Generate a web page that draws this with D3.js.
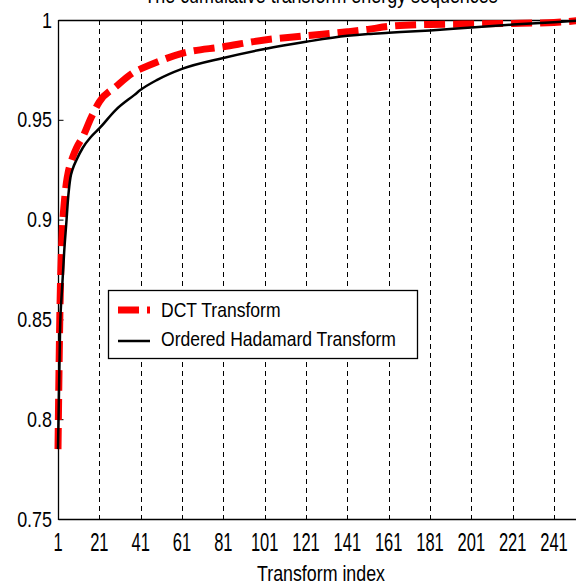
<!DOCTYPE html>
<html>
<head>
<meta charset="utf-8">
<script src="https://cdn.jsdelivr.net/npm/d3@7"></script>
<style>
  body { margin: 0; background: #fff; }
  text { font-family: "Liberation Sans", Arial, sans-serif; fill: #000; }
</style>
</head>
<body>
<svg id="chart" width="576" height="584"></svg>
<script>
var idx = [1, 2, 3, 4, 5, 6, 7, 8, 10, 13, 17, 21, 29, 38, 41, 49, 61, 81, 101, 121, 141, 151, 161, 181, 201, 221, 241, 256];

// cumulative energy, DCT
var dctEnergy = [0.785, 0.858, 0.893, 0.908, 0.918, 0.924, 0.928, 0.931, 0.936, 0.9415, 0.951, 0.959, 0.9666, 0.974, 0.9755, 0.979,
                 0.9833, 0.9866, 0.990, 0.9921, 0.9941, 0.9953, 0.9968, 0.9978, 0.9980, 0.9983, 0.9988, 1.0];

// cumulative energy, ordered Hadamard
var hadEnergy = [0.785, 0.845, 0.866, 0.884, 0.898, 0.912, 0.921, 0.925, 0.930, 0.936, 0.9415, 0.9457, 0.955, 0.9625, 0.965, 0.970,
                 0.9755, 0.981, 0.9855, 0.9891, 0.9921, 0.993, 0.9936, 0.9948, 0.9963, 0.9977, 0.9989, 1.0];

var xTicks = [1, 21, 41, 61, 81, 101, 121, 141, 161, 181, 201, 221, 241];
var yTicks = [0.75, 0.8, 0.85, 0.9, 0.95, 1];
var yTickLabels = ["0.75", "0.8", "0.85", "0.9", "0.95", "1"];
var seriesNames = ["DCT Transform", "Ordered Hadamard Transform"];
var titleText = "The cumulative transform energy sequences";
var xLabelText = "Transform index";

var svg = d3.select('#chart');

var x = d3.scaleLinear().domain([1, 256]).range([58, 585]);
var y = d3.scaleLinear().domain([0.75, 1]).range([519, 20]);

// matlab-ish condensed text: scale horizontally around the anchor point
function addText(px, py, str, size, sx, anchor) {
  return svg.append("text")
    .attr("transform", "translate(" + px + "," + py + ") scale(" + sx + ",1)")
    .attr("font-size", size)
    .attr("text-anchor", anchor || "start")
    .text(str);
}

// dashed vertical grid
svg.append("g").selectAll("line")
    .data(xTicks.slice(1))
  .enter().append("line")
    .attr("x1", function(d) { return Math.round(x(d)) + 0.5; })
    .attr("x2", function(d) { return Math.round(x(d)) + 0.5; })
    .attr("y1", y(1))
    .attr("y2", y(0.75))
    .attr("stroke", "#000")
    .attr("stroke-width", 1)
    .attr("stroke-dasharray", "5,4");

// box
svg.append("line").attr("x1", 58.5).attr("x2", 585).attr("y1", 20.5).attr("y2", 20.5).attr("stroke", "#000").attr("stroke-width", 1.3);
svg.append("line").attr("x1", 58.5).attr("x2", 585).attr("y1", 519.5).attr("y2", 519.5).attr("stroke", "#000").attr("stroke-width", 1.3);
svg.append("line").attr("x1", 58.5).attr("x2", 58.5).attr("y1", 20).attr("y2", 520).attr("stroke", "#000").attr("stroke-width", 1.3);

// inward ticks
svg.append("g")
    .attr("transform", "translate(58.5,0)")
    .call(d3.axisLeft(y).tickValues(yTicks).tickSize(-5).tickFormat(""))
    .call(function(g) { g.select(".domain").remove(); });

yTicks.forEach(function(v, i) {
  addText(52, y(v) + 7.5, yTickLabels[i], 21.6, 0.83, "end");
});

xTicks.forEach(function(v) {
  addText(x(v), 551, String(v), 25, 0.66, "middle");
});

// curves
var line = d3.line()
    .x(function(d) { return x(d[0]); })
    .y(function(d) { return y(d[1]); })
    .curve(d3.curveMonotoneX);

svg.append("path")
    .datum(idx.map(function(d, i) { return [d, dctEnergy[i]]; }))
    .attr("d", line)
    .attr("fill", "none")
    .attr("stroke", "#ff0000")
    .attr("stroke-width", 7)
    .attr("stroke-dasharray", "21,8");

svg.append("path")
    .datum(idx.map(function(d, i) { return [d, hadEnergy[i]]; }))
    .attr("d", line)
    .attr("fill", "none")
    .attr("stroke", "#000")
    .attr("stroke-width", 2.5);

// legend
svg.append("rect")
    .attr("x", 108.5).attr("y", 290.5)
    .attr("width", 309).attr("height", 68)
    .attr("fill", "#fff")
    .attr("stroke", "#000")
    .attr("stroke-width", 1.3);

svg.append("line").attr("x1", 118).attr("x2", 150).attr("y1", 310).attr("y2", 310)
    .attr("stroke", "#ff0000").attr("stroke-width", 7).attr("stroke-dasharray", "21,8");
svg.append("line").attr("x1", 118).attr("x2", 150).attr("y1", 341).attr("y2", 341)
    .attr("stroke", "#000").attr("stroke-width", 2.5);

addText(161, 317, seriesNames[0], 20.4, 0.86);
addText(161, 346, seriesNames[1], 20.4, 0.86);

// labels
addText(321, 581, xLabelText, 22, 0.81, "middle");
addText(321, 3, titleText, 21.6, 0.83, "middle");
</script>
</body>
</html>
